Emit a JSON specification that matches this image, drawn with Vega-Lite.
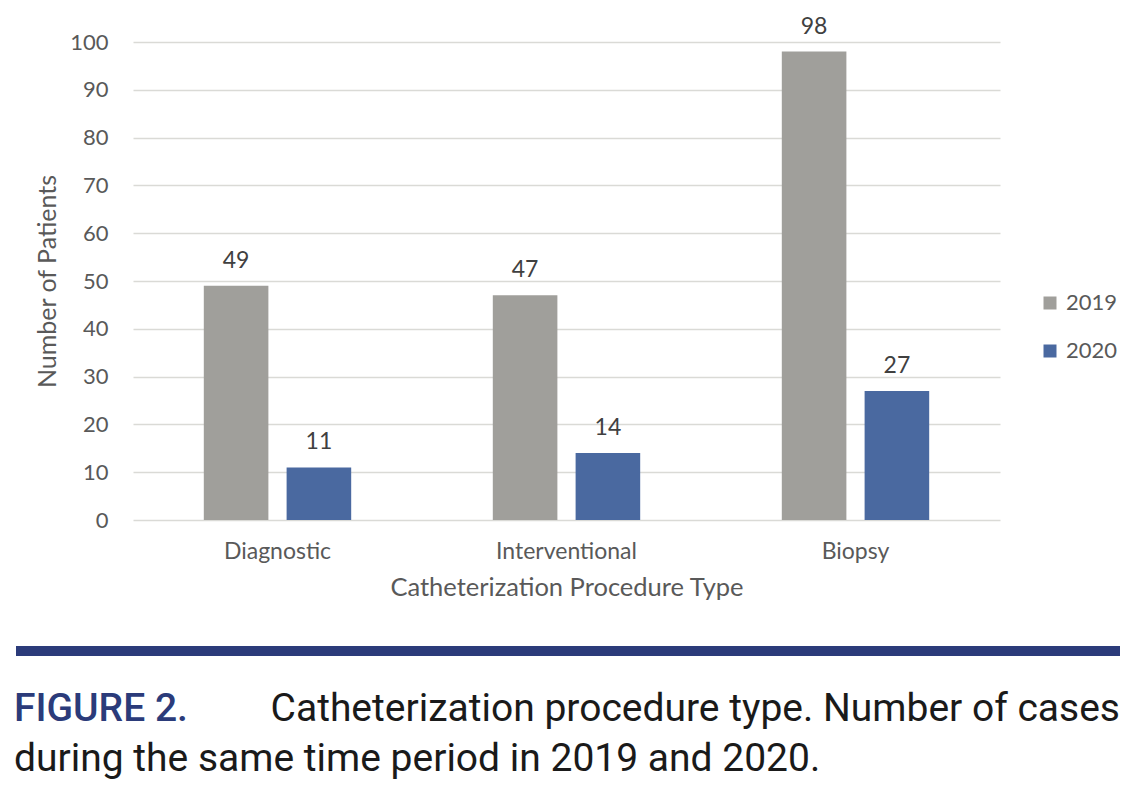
{
  "$schema": "https://vega.github.io/schema/vega-lite/v6.json",
  "padding": {"left": 11, "top": 15, "right": 10, "bottom": 10},
  "background": "white",
  "config": {"view": {"stroke": null}, "font": "Lato"},
  "spacing": 45,
  "title": {
    "text": "FIGURE 2.",
    "subtitle": "during the same time period in 2019 and 2020.",
    "orient": "bottom",
    "anchor": "start",
    "frame": "bounds",
    "offset": -39,
    "dx": 3,
    "font": "Roboto",
    "fontSize": 39,
    "fontWeight": 500,
    "color": "#2b3b7a",
    "subtitleFont": "Roboto",
    "subtitleFontSize": 39,
    "subtitleFontWeight": 400,
    "subtitleColor": "#1a1a1a",
    "subtitlePadding": 11
  },
  "vconcat": [
    {
      "width": 867,
      "height": 478,
      "data": {
        "values": [
          {"type": "Diagnostic", "year": "2019", "count": 49},
          {"type": "Diagnostic", "year": "2020", "count": 11},
          {"type": "Interventional", "year": "2019", "count": 47},
          {"type": "Interventional", "year": "2020", "count": 14},
          {"type": "Biopsy", "year": "2019", "count": 98},
          {"type": "Biopsy", "year": "2020", "count": 27}
        ]
      },
      "encoding": {
        "x": {
          "field": "type",
          "type": "nominal",
          "sort": ["Diagnostic", "Interventional", "Biopsy"],
          "scale": {"paddingInner": 0.49, "paddingOuter": 0.245},
          "axis": {
            "title": "Catheterization Procedure Type",
            "labelAngle": 0,
            "labelFontSize": 23,
            "labelColor": "#595959",
            "labelPadding": 20,
            "ticks": false,
            "tickSize": 0,
            "domain": false,
            "titleFontSize": 25.5,
            "titleFontWeight": "normal",
            "titleColor": "#595959",
            "titlePadding": 12
          }
        },
        "xOffset": {"field": "year", "type": "nominal", "scale": {"paddingInner": 0.22}},
        "y": {
          "field": "count",
          "type": "quantitative",
          "scale": {"domain": [0, 100]},
          "axis": {
            "values": [0, 10, 20, 30, 40, 50, 60, 70, 80, 90, 100],
            "title": "Number of Patients",
            "labelFontSize": 22,
            "labelColor": "#595959",
            "labelPadding": 25,
            "ticks": false,
            "tickSize": 0,
            "domain": false,
            "grid": true,
            "gridColor": "#dadad6",
            "gridWidth": 1.5,
            "titleFontSize": 25,
            "titleFontWeight": "normal",
            "titleColor": "#595959",
            "titlePadding": 9
          }
        }
      },
      "layer": [
        {
          "mark": {"type": "bar"},
          "encoding": {
            "color": {
              "field": "year",
              "type": "nominal",
              "scale": {"domain": ["2019", "2020"], "range": ["#a09f9b", "#4a69a0"]},
              "legend": {
                "title": null,
                "orient": "none",
                "legendX": 906,
                "legendY": 250,
                "symbolType": "square",
                "symbolSize": 169,
                "symbolStrokeWidth": 0,
                "labelFontSize": 22,
                "labelColor": "#595959",
                "labelOffset": 5,
                "rowPadding": 26
              }
            }
          }
        },
        {
          "mark": {"type": "text", "baseline": "alphabetic", "dy": -18, "fontSize": 23, "color": "#404040"},
          "encoding": {"text": {"field": "count", "type": "quantitative"}}
        }
      ]
    },
    {
      "width": 987,
      "height": 10,
      "data": {"values": [{"start": 0, "end": 1, "v": 0.5}]},
      "mark": {"type": "rule", "color": "#2b3b7a", "strokeWidth": 10, "clip": false},
      "encoding": {
        "x": {"field": "start", "type": "quantitative", "scale": {"domain": [0, 1], "range": [-117, 987]}, "axis": null},
        "x2": {"field": "end"},
        "y": {"field": "v", "type": "quantitative", "scale": {"domain": [0, 1]}, "axis": null}
      },
      "title": {
        "text": "Catheterization procedure type. Number of cases",
        "orient": "bottom",
        "anchor": "end",
        "frame": "bounds",
        "offset": 34,
        "dx": -5,
        "font": "Roboto",
        "fontSize": 39,
        "fontWeight": 400,
        "color": "#1a1a1a"
      }
    }
  ]
}
